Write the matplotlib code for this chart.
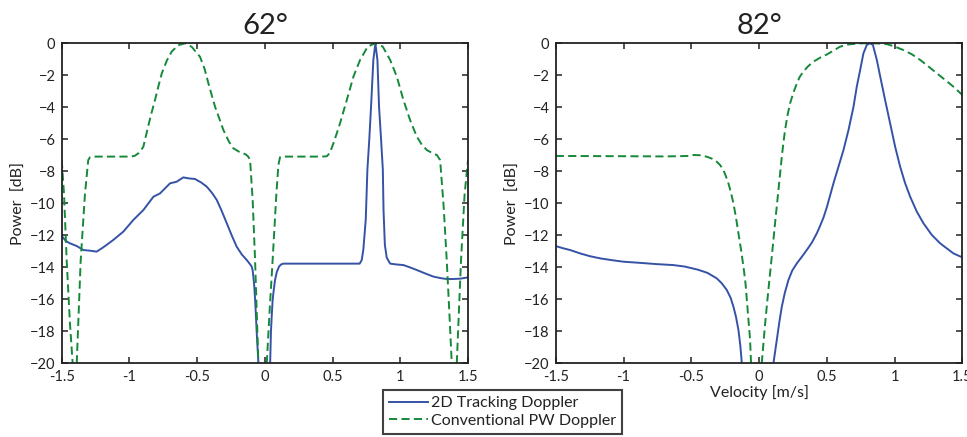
import matplotlib
matplotlib.use("Agg")
import matplotlib.pyplot as plt

plt.rcParams['font.family'] = ['Lato', 'DejaVu Sans']

# ---------------- data ----------------
titles = ["62\u00b0", "82\u00b0"]
legend_labels = ["2D Tracking Doppler", "Conventional PW Doppler"]
x_ticks = [-1.5, -1, -0.5, 0, 0.5, 1, 1.5]
x_tick_labels = ["-1.5", "-1", "-0.5", "0", "0.5", "1", "1.5"]
y_ticks = [0, -2, -4, -6, -8, -10, -12, -14, -16, -18, -20]
y_tick_labels = ["0", "\u22122", "\u22124", "\u22126", "\u22128", "\u221210",
                 "\u221212", "\u221214", "\u221216", "\u221218", "\u221220"]

# 62 deg - 2D tracking Doppler
v62_track = [-1.5, -1.470, -1.439, -1.389, -1.340, -1.291, -1.242, -1.193, -1.119,
             -1.045, -0.971, -0.897, -0.823, -0.774, -0.700, -0.651, -0.602, -0.565,
             -0.516, -0.470, -0.429, -0.390, -0.355, -0.320, -0.281, -0.245, -0.208,
             -0.170, -0.134, -0.110, -0.097, -0.090, -0.085, -0.078, -0.072, -0.066,
             -0.060, -0.054, -0.048, -0.040, 0.030, 0.039, 0.045, 0.051, 0.057, 0.063,
             0.075, 0.088, 0.105, 0.120, 0.137, 0.300, 0.500, 0.700, 0.715, 0.727,
             0.745, 0.757, 0.771, 0.784, 0.801, 0.816, 0.831, 0.843, 0.858, 0.871,
             0.876, 0.886, 0.900, 0.925, 0.970, 1.023, 1.070, 1.122, 1.180, 1.244,
             1.300, 1.343, 1.390, 1.441, 1.5]
p62_track = [-12.04, -12.35, -12.50, -12.67, -12.92, -12.96, -13.02, -12.75, -12.29,
             -11.77, -11.04, -10.42, -9.59, -9.38, -8.75, -8.65, -8.38, -8.44,
             -8.48, -8.70, -8.96, -9.35, -9.79, -10.45, -11.25, -12.00, -12.71,
             -13.20, -13.54, -13.80, -13.96, -14.20, -14.58, -15.20, -16.04, -17.00,
             -18.10, -19.00, -19.90, -26.0, -26.0, -20.0, -18.0, -17.0, -16.1, -15.6,
             -14.8, -14.3, -13.95, -13.82, -13.77, -13.77, -13.77, -13.77, -13.55, -12.90,
             -11.00, -7.90, -6.00, -3.96, -1.04, 0.0, -1.04, -3.96, -6.00, -7.90,
             -10.40, -12.60, -13.40, -13.77, -13.82, -13.86, -14.00, -14.17, -14.37, -14.58,
             -14.68, -14.73, -14.73, -14.71, -14.63]

# 62 deg - conventional PW Doppler
v62_conv = [-1.5, -1.483, -1.463, -1.439, -1.419, -1.402, -1.389, -1.360, -1.328,
            -1.304, -1.291, -1.270, -1.100, -0.990, -0.960, -0.930, -0.915, -0.897,
            -0.868, -0.840, -0.811, -0.785, -0.761, -0.725, -0.688, -0.640, -0.589,
            -0.540, -0.479, -0.445, -0.417, -0.368, -0.306, -0.265, -0.233, -0.190,
            -0.159, -0.140, -0.122, -0.109, -0.090, -0.072, -0.060, -0.048, -0.020,
            0.014, 0.036, 0.057, 0.085, 0.100, 0.112, 0.135, 0.300, 0.420, 0.457,
            0.480, 0.506, 0.530, 0.555, 0.605, 0.654, 0.703, 0.760, 0.814, 0.870,
            0.925, 0.974, 1.023, 1.072, 1.122, 1.160, 1.196, 1.240, 1.270, 1.294,
            1.320, 1.343, 1.362, 1.380, 1.395, 1.417, 1.448, 1.475, 1.5]
p62_conv = [-7.3, -9.4, -13.6, -17.5, -20.0, -30.0, -20.0, -13.6, -9.4,
            -7.3, -7.12, -7.08, -7.08, -7.08, -7.03, -6.85, -6.70, -6.46,
            -5.42, -4.45, -3.54, -2.65, -1.88, -1.10, -0.52, -0.12, 0.0,
            -0.22, -0.84, -1.60, -2.50, -3.96, -5.42, -6.15, -6.56, -6.78,
            -6.88, -6.95, -7.09, -7.30, -9.80, -13.6, -16.8, -20.0, -30.0,
            -20.0, -16.6, -13.6, -9.4, -7.6, -7.12, -7.08, -7.08, -7.08, -7.06,
            -6.85, -6.25, -5.65, -5.00, -3.54, -2.08, -1.04, -0.20, 0.0, -0.20,
            -1.04, -2.08, -3.54, -4.79, -5.84, -6.35, -6.67, -6.88, -6.98, -7.30,
            -10.2, -13.6, -16.8, -20.0, -30.0, -20.0, -13.6, -9.4, -7.3]

# 82 deg - 2D tracking Doppler
v82_track = [-1.5, -1.450, -1.394, -1.320, -1.250, -1.173, -1.080, -1.000, -0.880,
             -0.755, -0.632, -0.550, -0.450, -0.380, -0.312, -0.275, -0.238, -0.210,
             -0.189, -0.170, -0.152, -0.138, -0.127, -0.110, 0.090, 0.106, 0.118,
             0.131, 0.150, 0.168, 0.190, 0.217, 0.245, 0.279, 0.315, 0.352, 0.390,
             0.426, 0.451, 0.475, 0.500, 0.549, 0.586, 0.623, 0.660, 0.697, 0.721,
             0.746, 0.770, 0.795, 0.819, 0.840, 0.869, 0.894, 0.930, 0.967, 1.004,
             1.041, 1.078, 1.115, 1.164, 1.213, 1.275, 1.336, 1.434, 1.5]
p82_track = [-12.67, -12.80, -12.92, -13.13, -13.30, -13.44, -13.56, -13.65, -13.72,
             -13.80, -13.86, -13.95, -14.15, -14.35, -14.69, -15.00, -15.42, -15.90,
             -16.46, -17.10, -17.92, -18.90, -20.0, -26.0, -26.0, -20.0, -19.3,
             -18.54, -17.40, -16.46, -15.60, -14.79, -14.20, -13.75, -13.35, -12.92, -12.45,
             -11.88, -11.40, -10.90, -10.25, -8.75, -7.71, -6.67, -5.42, -3.96, -2.71,
             -1.67, -0.63, -0.10, 0.0, -0.10, -1.04, -2.08, -3.54, -5.00, -6.46,
             -7.71, -8.75, -9.59, -10.52, -11.25, -11.98, -12.50, -13.13, -13.38]

# 82 deg - conventional PW Doppler
v82_conv = [-1.5, -1.200, -0.900, -0.700, -0.509, -0.484, -0.420, -0.386, -0.350,
            -0.312, -0.288, -0.263, -0.245, -0.226, -0.208, -0.189, -0.170, -0.152,
            -0.133, -0.115, -0.100, -0.090, -0.078, -0.066, -0.059, -0.020, 0.020,
            0.045, 0.069, 0.094, 0.118, 0.143, 0.168, 0.180, 0.192, 0.210, 0.229,
            0.255, 0.279, 0.300, 0.327, 0.360, 0.401, 0.450, 0.500, 0.550, 0.598,
            0.650, 0.696, 0.760, 0.819, 0.880, 0.943, 1.000, 1.065, 1.130, 1.189,
            1.250, 1.312, 1.375, 1.434, 1.5]
p82_conv = [-7.04, -7.05, -7.06, -7.07, -7.04, -6.98, -7.00, -7.09, -7.20,
            -7.40, -7.60, -7.92, -8.30, -8.75, -9.30, -10.00, -10.90, -11.88,
            -12.90, -13.96, -15.00, -16.04, -17.30, -18.54, -20.0, -30.0, -20.0,
            -17.50, -15.40, -13.33, -11.25, -9.17, -7.09, -6.20, -5.42, -4.50, -3.75,
            -3.05, -2.50, -2.10, -1.77, -1.45, -1.15, -0.90, -0.70, -0.45, -0.21,
            -0.08, -0.04, 0.0, 0.0, -0.01, -0.05, -0.20, -0.42, -0.70, -1.04,
            -1.45, -1.88, -2.30, -2.71, -3.23]

track_series = [(v62_track, p62_track), (v82_track, p82_track)]
conv_series = [(v62_conv, p62_conv), (v82_conv, p82_conv)]

# ---------------- styling ----------------
blue = "#3552a6"
green = "#15893a"
ink = "#222222"

fig = plt.figure(figsize=(9.67, 4.37), dpi=100)
positions = [[0.0638, 0.1686, 0.4202, 0.7323], [0.5747, 0.1686, 0.4205, 0.7323]]

handles = None
for i in range(2):
    ax = fig.add_axes(positions[i])
    vt, pt = track_series[i]
    vc, pc = conv_series[i]
    h1, = ax.plot(vt, pt, color=blue, lw=1.4, label=legend_labels[0])
    h2, = ax.plot(vc, pc, color=green, lw=1.4, dashes=(4.2, 2.2),
                  label=legend_labels[1])
    handles = [h1, h2]
    ax.set_xlim(-1.5, 1.5)
    ax.set_ylim(-20, 0)
    ax.set_xticks(x_ticks)
    ax.set_xticklabels(x_tick_labels)
    ax.set_yticks(y_ticks)
    ax.set_yticklabels(y_tick_labels)
    ax.tick_params(direction='in', top=True, right=True, length=4, width=1.1,
                   labelsize=10.5, colors=ink)
    ax.tick_params(axis='x', pad=4.5)
    ax.tick_params(axis='y', pad=4.5)
    for s in ax.spines.values():
        s.set_linewidth(1.3)
        s.set_color(ink)
    ax.set_ylabel("Power  [dB]", fontsize=11.5, color=ink, labelpad=3)
    ax.set_title(titles[i], fontsize=21, color=ink, pad=7)
    if i == 1:
        ax.set_xlabel("Velocity [m/s]", fontsize=11.5, color=ink, labelpad=1)

leg = fig.legend(handles, legend_labels, loc='lower left',
                 bbox_to_anchor=(0.396, 0.007), borderaxespad=0,
                 fontsize=11.5, frameon=True, fancybox=False,
                 handlelength=2.4, handletextpad=0.2, borderpad=0.4,
                 labelspacing=0.2)
leg.get_frame().set_edgecolor("#111111")
leg.get_frame().set_linewidth(1.5)
for t in leg.get_texts():
    t.set_color(ink)

fig.savefig("out.png", dpi=100)
